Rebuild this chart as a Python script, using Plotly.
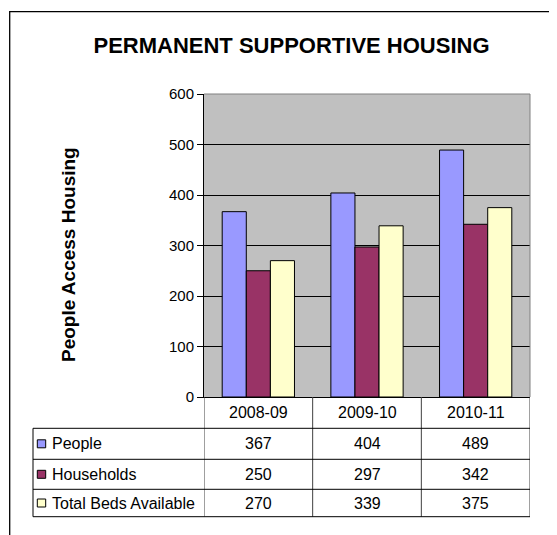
import plotly.graph_objects as go

# ---------------- data ----------------
categories = ["2008-09", "2009-10", "2010-11"]
series_names = ["People", "Households", "Total Beds Available"]
people = [367, 404, 489]
households = [250, 297, 342]
total_beds = [270, 339, 375]
series_values = [people, households, total_beds]
series_colors = ["#9999FF", "#993366", "#FFFFCC"]
y_ticks = [0, 100, 200, 300, 400, 500, 600]
chart_title = "PERMANENT SUPPORTIVE HOUSING"
y_title = "People Access Housing"

# ---------------- geometry (pixels in the window) ----------------
OFF = 8                                  # page body margin
W, H = 557 - OFF, 535 - OFF              # figure size
L, R, T, B = 204, 530, 94, 397           # plot area in window pixels
pw, ph = R - L, B - T
FONT = "Liberation Sans, Arial, Helvetica, sans-serif"


def px_x(x):
    return (x - L) / pw


def px_y(y):
    return (B - y) / ph


table_left = 33
row_edges = [428.3, 459.3, 489.3, 516.7]
row_centers = [(row_edges[i] + row_edges[i + 1]) / 2 for i in range(3)]
header_center = 412

fig = go.Figure()
for name, vals, col in zip(series_names, series_values, series_colors):
    fig.add_trace(go.Bar(
        x=categories, y=vals, name=name,
        marker=dict(color=col, line=dict(color="black", width=1)),
        hoverinfo="skip",
    ))

shapes = []
# outer chart border (extends beyond the visible window on right/bottom)
shapes.append(dict(type="rect", xref="paper", yref="paper",
                   x0=px_x(9.7), x1=px_x(700), y0=px_y(11.7), y1=px_y(700),
                   line=dict(color="black", width=1.3), layer="below"))
# plot area grey border (top & right)
shapes.append(dict(type="line", xref="paper", yref="paper", x0=0, x1=1, y0=1, y1=1,
                   line=dict(color="#808080", width=1), layer="above"))
shapes.append(dict(type="line", xref="paper", yref="paper", x0=1, x1=1, y0=0, y1=1,
                   line=dict(color="#808080", width=1), layer="above"))

# table: vertical dividers between categories
n = len(categories)
for k in range(n + 1):
    xb = k - 0.5
    shapes.append(dict(type="line", xref="x", yref="paper", x0=xb, x1=xb,
                       y0=0, y1=px_y(row_edges[-1]),
                       line=dict(color="#404040", width=1)))
# left edge of table
shapes.append(dict(type="line", xref="paper", yref="paper",
                   x0=px_x(table_left), x1=px_x(table_left),
                   y0=px_y(row_edges[0]), y1=px_y(row_edges[-1]),
                   line=dict(color="black", width=1)))
# horizontal row lines
for ye in row_edges:
    shapes.append(dict(type="line", xref="paper", yref="paper",
                       x0=px_x(table_left), x1=1, y0=px_y(ye), y1=px_y(ye),
                       line=dict(color="black", width=1)))

annotations = []
# header row (categories)
for c in categories:
    annotations.append(dict(x=c, xref="x", y=px_y(header_center), yref="paper",
                            text=c, showarrow=False, yanchor="middle",
                            font=dict(size=16, color="black", family=FONT)))
# rows with legend keys
for name, vals, col, yc in zip(series_names, series_values, series_colors, row_centers):
    shapes.append(dict(type="rect", xref="paper", yref="paper",
                       x0=px_x(37.3), x1=px_x(45.7),
                       y0=px_y(yc + 4), y1=px_y(yc - 4),
                       fillcolor=col, line=dict(color="black", width=1)))
    annotations.append(dict(x=px_x(50), xref="paper", y=px_y(yc), yref="paper",
                            text=name, showarrow=False, xanchor="left", yanchor="middle",
                            font=dict(size=16, color="black", family=FONT)))
    for c, v in zip(categories, vals):
        annotations.append(dict(x=c, xref="x", y=px_y(yc), yref="paper",
                                text=str(v), showarrow=False, yanchor="middle",
                                font=dict(size=16, color="black", family=FONT)))
# y-axis title
annotations.append(dict(x=px_x(68), xref="paper", y=px_y(255), yref="paper",
                        text="<b>" + y_title + "</b>", textangle=-90, showarrow=False,
                        xanchor="center", yanchor="middle",
                        font=dict(size=19, color="black", family=FONT)))

fig.update_layout(
    width=W, height=H, autosize=False,
    margin=dict(l=L - OFF, r=W - (R - OFF), t=T - OFF, b=H - (B - OFF), pad=0),
    paper_bgcolor="white", plot_bgcolor="#C0C0C0",
    barmode="group", bargap=0.335, bargroupgap=0,
    showlegend=False, hovermode=False,
    font=dict(family=FONT, color="black"),
    title=dict(text="<b>" + chart_title + "</b>", x=(291.5 - OFF) / W, xanchor="center",
               y=1 - (45 - OFF) / H, yanchor="middle", xref="container", yref="container",
               font=dict(size=22, color="black", family=FONT)),
    xaxis=dict(type="category", range=[-0.5, n - 0.5], showticklabels=False,
               showline=True, linecolor="black", linewidth=1, ticks="",
               showgrid=False, zeroline=False, fixedrange=True),
    yaxis=dict(range=[0, 600], tickvals=y_ticks, ticks="outside", ticklen=6,
               tickcolor="black", tickwidth=1, showline=True, linecolor="black",
               linewidth=1, showgrid=True, gridcolor="black", gridwidth=1,
               zeroline=False, tickfont=dict(size=15, color="black", family=FONT),
               fixedrange=True),
    shapes=shapes, annotations=annotations,
)

fig.write_html("out.html", config={"displayModeBar": False})
